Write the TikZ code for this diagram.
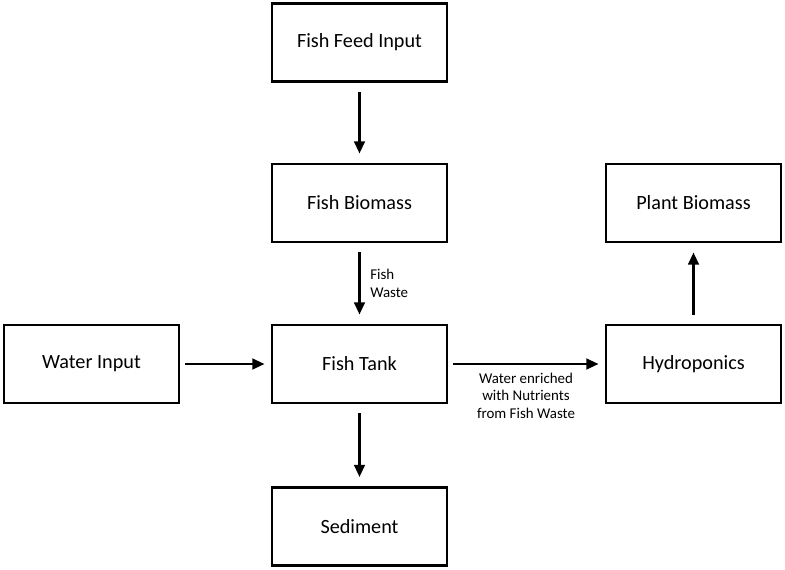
\documentclass[tikz,border=0pt]{standalone}
\usepackage{fontspec}
\setmainfont{Carlito}
\usetikzlibrary{arrows.meta, positioning}

\begin{document}
\begin{tikzpicture}[
		x=0.02cm, y=-0.02cm,
		box/.style={draw, line width=1.6pt, align=center, minimum width=3.5cm, minimum height=1.56cm, font=\fontsize{11.5}{13}\selectfont},
		arrow/.style={-{Triangle[length=7pt,width=6pt]}, line width=1.6pt},
		lbl/.style={font=\fontsize{8.5}{10}\selectfont, align=left}
		]
		\useasboundingbox (0,0) rectangle (785,569);
		
		% middle column
		\node[box] (feed) at (359.5,42.5) {Fish Feed Input};
		\node[box] (fbio) at (359.5,203) {Fish Biomass};
		\node[box] (tank) at (359.5,364) {Fish Tank};
		\node[box] (sed) at (359.5,526.5) {Sediment};
		
		% sides
		\node[box] (water) at (91.5,364) {Water Input};
		\node[box] (hydro) at (693.5,364) {Hydroponics};
		\node[box] (pbio) at (693.5,203) {Plant Biomass};
		
		% Arrows
		\draw[arrow] ([yshift=-0.18cm]feed.south) -- ([yshift=0.18cm]fbio.north);
		\draw[arrow] ([yshift=-0.18cm]fbio.south) -- node[lbl, right, xshift=2pt]{Fish\\Waste} ([yshift=0.18cm]tank.north);
		\draw[arrow] ([yshift=-0.18cm]tank.south) -- ([yshift=0.18cm]sed.north);
		\draw[arrow] ([xshift=0.1cm]water.east) -- ([xshift=-0.12cm]tank.west);
		\draw[arrow] ([xshift=0.1cm]tank.east) -- node[lbl, below, align=center, yshift=-1pt]{Water enriched\\with Nutrients\\from Fish Waste} ([xshift=-0.12cm]hydro.west);
		\draw[arrow] ([yshift=0.18cm]hydro.north) -- ([yshift=-0.18cm]pbio.south);
		
	\end{tikzpicture}
\end{document}
